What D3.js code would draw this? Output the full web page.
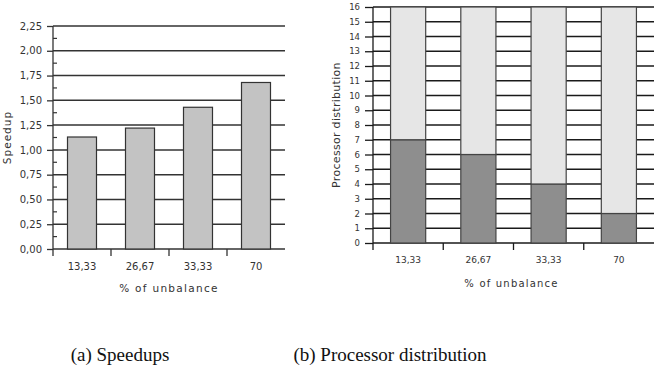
<!DOCTYPE html>
<html>
<head>
<meta charset="utf-8">
<script src="https://cdn.jsdelivr.net/npm/d3@7"></script>
<style>
  body { margin: 0; background: #fff; }
  svg text { font-family: "DejaVu Sans", sans-serif; fill: #333; }
  svg text.caption { font-family: "Liberation Serif", "Times New Roman", serif; fill: #111; }
</style>
</head>
<body>
<svg id="chart" width="662" height="384"></svg>
<script>
// data
var categories = ["13,33", "26,67", "33,33", "70"];
var speedups = [1.13, 1.22, 1.43, 1.68];
var speedupTicks = [0, 0.25, 0.5, 0.75, 1, 1.25, 1.5, 1.75, 2, 2.25];
var procLow = [7, 6, 4, 2];
var procHigh = [9, 10, 12, 14];
var procTicks = d3.range(0, 17);

var svg = d3.select("#chart");
var gridColor = "#333";
var fmt = d => d.toFixed(2).replace(".", ",");

// ---------- (a) Speedups ----------
function renderSpeedups() {
    var left = 53, right = 285, top = 26, bottom = 249;
    var g = svg.append("g");

    var x = d3.scaleBand().domain(categories).range([left, right])
        .paddingInner(0.5).paddingOuter(0.25);
    var y = d3.scaleLinear().domain([0, 2.25]).range([bottom, top]);

    // gridlines
    g.selectAll(".grid").data(speedupTicks).enter().append("line")
        .attr("x1", left).attr("x2", right)
        .attr("y1", d => y(d)).attr("y2", d => y(d))
        .attr("stroke", gridColor).attr("stroke-width", 1.5);

    // bars
    g.selectAll(".bar").data(speedups).enter().append("rect")
        .attr("x", (d, i) => x(categories[i]))
        .attr("width", x.bandwidth())
        .attr("y", d => y(d))
        .attr("height", d => y(0) - y(d))
        .attr("fill", "#c3c3c3")
        .attr("stroke", "#333").attr("stroke-width", 1.2);

    // y axis
    var yAxis = g.append("g")
        .attr("transform", "translate(" + left + ",0)")
        .call(d3.axisLeft(y).tickValues(speedupTicks).tickSize(6).tickPadding(5).tickFormat(fmt));
    yAxis.select(".domain").attr("stroke", gridColor).attr("stroke-width", 1.3)
        .attr("d", "M0," + (bottom + 7) + "V" + top);
    yAxis.selectAll(".tick line").attr("stroke", gridColor).attr("stroke-width", 1.3);
    yAxis.selectAll("text").style("font-size", "10px").attr("fill", "#444");

    // minor ticks
    g.selectAll(".minor").data(d3.range(0.125, 2.25, 0.25)).enter().append("line")
        .attr("x1", left).attr("x2", left + 4)
        .attr("y1", d => y(d)).attr("y2", d => y(d))
        .attr("stroke", gridColor).attr("stroke-width", 1.2);

    // x axis category boundaries
    var step = x.step();
    g.selectAll(".xtick").data(categories.slice(1)).enter().append("line")
        .attr("x1", d => x(d) - step * 0.25).attr("x2", d => x(d) - step * 0.25)
        .attr("y1", bottom).attr("y2", bottom + 7)
        .attr("stroke", gridColor).attr("stroke-width", 1.3);

    g.selectAll(".xlabel").data(categories).enter().append("text")
        .attr("x", d => x(d) + x.bandwidth() / 2)
        .attr("y", bottom + 21)
        .attr("text-anchor", "middle")
        .style("font-size", "10px")
        .attr("fill", "#444")
        .text(d => d);

    g.append("text")
        .attr("x", (left + right) / 2).attr("y", 292)
        .attr("text-anchor", "middle")
        .style("font-size", "10.5px").style("letter-spacing", "1.3px")
        .text("% of unbalance");

    g.append("text")
        .attr("transform", "translate(11," + ((top + bottom) / 2) + ") rotate(-90)")
        .attr("text-anchor", "middle")
        .style("font-size", "10.5px").style("letter-spacing", "1px")
        .text("Speedup");

    svg.append("text").attr("class", "caption")
        .attr("x", 120).attr("y", 361)
        .attr("text-anchor", "middle")
        .style("font-size", "19px")
        .text("(a) Speedups");
}

// ---------- (b) Processor distribution ----------
function renderDistribution() {
    var left = 373, right = 654, top = 7, bottom = 243;
    var g = svg.append("g");

    var x = d3.scaleBand().domain(categories).range([left, right])
        .paddingInner(0.5).paddingOuter(0.25);
    var y = d3.scaleLinear().domain([0, 16]).range([bottom, top]);

    g.selectAll(".grid").data(procTicks).enter().append("line")
        .attr("x1", left).attr("x2", right)
        .attr("y1", d => y(d)).attr("y2", d => y(d))
        .attr("stroke", "#1a1a1a").attr("stroke-width", 1.5);

    var rows = categories.map((c, i) => ({ cat: c, low: procLow[i], high: procHigh[i] }));
    var stack = d3.stack().keys(["low", "high"])(rows);
    var colors = { low: "#8e8e8e", high: "#e6e6e6" };

    stack.forEach(function (layer) {
        g.selectAll(".bar-" + layer.key).data(layer).enter().append("rect")
            .attr("x", d => x(d.data.cat))
            .attr("width", x.bandwidth())
            .attr("y", d => y(d[1]))
            .attr("height", d => y(d[0]) - y(d[1]))
            .attr("fill", colors[layer.key])
            .attr("stroke", "#444").attr("stroke-width", 1.2);
    });

    var yAxis = g.append("g")
        .attr("transform", "translate(" + left + ",0)")
        .call(d3.axisLeft(y).tickValues(procTicks).tickSize(8).tickPadding(5).tickFormat(d3.format("d")));
    yAxis.select(".domain").attr("stroke", "#1a1a1a").attr("stroke-width", 1.3)
        .attr("d", "M0," + (bottom + 7) + "V" + top);
    yAxis.selectAll(".tick line").attr("stroke", "#1a1a1a").attr("stroke-width", 1.3);
    yAxis.selectAll("text").style("font-size", "8.5px").attr("fill", "#444");

    var step = x.step();
    g.selectAll(".xtick").data(categories.slice(1)).enter().append("line")
        .attr("x1", d => x(d) - step * 0.25).attr("x2", d => x(d) - step * 0.25)
        .attr("y1", bottom).attr("y2", bottom + 7)
        .attr("stroke", "#1a1a1a").attr("stroke-width", 1.3);

    g.selectAll(".xlabel").data(categories).enter().append("text")
        .attr("x", d => x(d) + x.bandwidth() / 2)
        .attr("y", bottom + 20)
        .attr("text-anchor", "middle")
        .style("font-size", "9px")
        .attr("fill", "#444")
        .text(d => d);

    g.append("text")
        .attr("x", (left + right) / 2 - 2).attr("y", 287)
        .attr("text-anchor", "middle")
        .style("font-size", "10px").style("letter-spacing", "1.2px")
        .text("% of unbalance");

    g.append("text")
        .attr("transform", "translate(340," + ((top + bottom) / 2) + ") rotate(-90)")
        .attr("text-anchor", "middle")
        .style("font-size", "11px").style("letter-spacing", "0.3px")
        .text("Processor distribution");

    svg.append("text").attr("class", "caption")
        .attr("x", 390).attr("y", 361)
        .attr("text-anchor", "middle")
        .style("font-size", "19px")
        .text("(b) Processor distribution");
}

renderSpeedups();
renderDistribution();
</script>
</body>
</html>
